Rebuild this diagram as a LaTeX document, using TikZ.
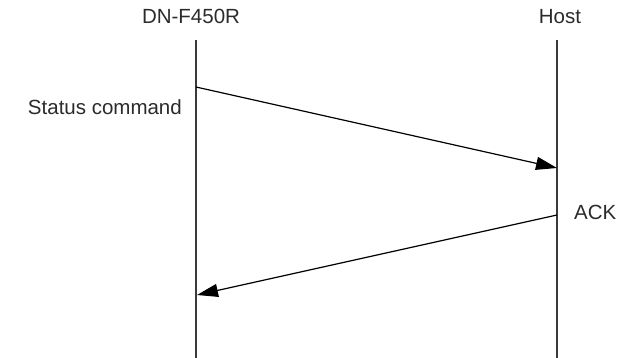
\documentclass[tikz,border=0pt]{standalone}
\usepackage{fontspec}
\setmainfont{Liberation Sans}
\usetikzlibrary{arrows.meta}
\definecolor{linegray}{HTML}{3a3a3a}
\definecolor{textgray}{HTML}{2b2b2b}

\begin{document}
\begin{tikzpicture}[x=1pt, y=-1pt,
  lbl/.style={inner sep=0pt, text=textgray, font=\fontsize{20.5}{24}\selectfont},
  life/.style={draw=linegray, line width=1.5pt},
  msg/.style={draw=black, line width=1.2pt, -{Triangle[length=21pt, width=13pt]}}
]
\useasboundingbox (0,0) rectangle (621,358);
\node[lbl, anchor=base] (dn) at (191,24) {DN-F450R};
\node[lbl, anchor=base] (host) at (560,24) {Host};
\coordinate (dnTop) at (196,40);
\coordinate (dnBot) at (196,358);
\coordinate (hostTop) at (557,40);
\coordinate (hostBot) at (557,358);
\draw[life] (dnTop) -- (dnBot);
\draw[life] (hostTop) -- (hostBot);
\coordinate (statOut) at (196,87);
\coordinate (statIn) at (557,168);
\coordinate (ackOut) at (557,215);
\coordinate (ackIn) at (197,295);
\draw[msg] (statOut) -- (statIn);
\draw[msg] (ackOut) -- (ackIn);
\node[lbl, anchor=base east] (stat) at (182,115) {Status command};
\node[lbl, anchor=base west] (ack) at (574,220) {ACK};
\end{tikzpicture}
\end{document}
